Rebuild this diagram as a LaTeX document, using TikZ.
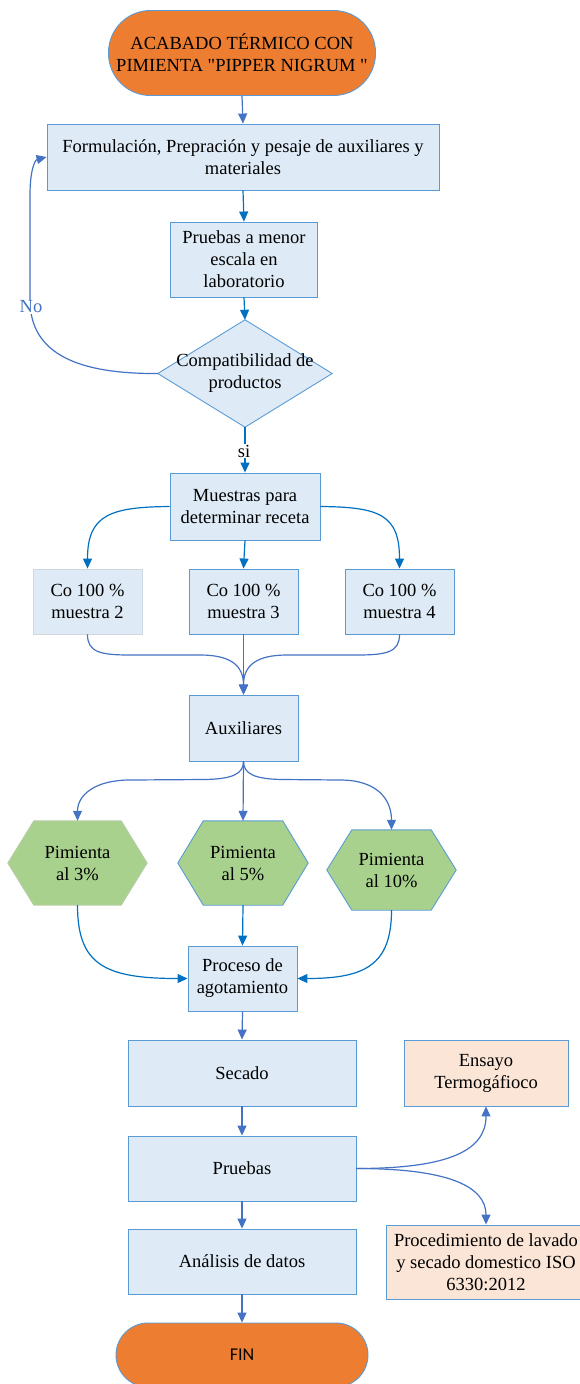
\documentclass[tikz,border=0pt]{standalone}
\usepackage{fontspec}
\setmainfont{Liberation Serif}
\newfontfamily\calibfam{Carlito}
\usetikzlibrary{arrows.meta,backgrounds}
\definecolor{bxfill}{HTML}{DEEBF7}
\definecolor{bxline}{HTML}{5B9BD5}
\definecolor{orng}{HTML}{ED7D31}
\definecolor{grn}{HTML}{A9D18E}
\definecolor{grnline}{HTML}{B9CCAA}
\definecolor{peach}{HTML}{FBE5D6}
\definecolor{arA}{HTML}{0070C0}
\definecolor{arB}{HTML}{4472C4}
\definecolor{gryline}{HTML}{D0D7DE}
\newcommand\bodyfs{\fontsize{18.5}{22}\selectfont}
\newcommand\finfs{\calibfam\fontsize{18}{22}\selectfont}
\begin{document}
\begin{tikzpicture}[x=1pt,y=-1pt,
  every node/.style={inner sep=0pt, align=center, font=\bodyfs},
  box/.style={draw=bxline, fill=bxfill, line width=0.9pt},
  term/.style={draw=bxline, fill=orng, line width=0.9pt},
  shapeA/.style={draw=bxline, fill=bxfill, line width=0.9pt},
  hexg/.style={fill=grn, draw=bxline, line width=0.9pt},
  arA/.style={draw=arA, line width=1.2pt, -{Triangle[length=10pt,width=9pt]}},
  arB/.style={draw=arB, line width=1.2pt, -{Triangle[length=10pt,width=9pt]}},
  lbl/.style={fill=white, inner sep=1pt}
]
\useasboundingbox (0,0) rectangle (579,1384);

% nodes
\node[term, rounded corners=42pt, minimum width=267pt, minimum height=85pt] (start) at (242,53) {ACABADO TÉRMICO CON\\PIMIENTA \textquotedbl PIPPER NIGRUM \textquotedbl};
\node[box, minimum width=392pt, minimum height=66pt] (b1) at (243,157) {Formulación, Prepración y pesaje de auxiliares y\\materiales};
\node[box, minimum width=147pt, minimum height=75pt] (b2) at (244,259.5) {Pruebas a menor\\escala en\\laboratorio};
\node[minimum width=174pt, minimum height=107pt] (dec) at (245,373.5) {Compatibilidad de\\productos};
\node[box, minimum width=150pt, minimum height=67pt] (b3) at (245,506.5) {Muestras para\\determinar receta};
\node[box, draw=gryline, minimum width=109pt, minimum height=65pt] (b4) at (87.5,601.5) {Co 100 \%\\muestra 2};
\node[box, minimum width=109pt, minimum height=65pt] (b5) at (243.5,601.5) {Co 100 \%\\muestra 3};
\node[box, minimum width=109pt, minimum height=65pt] (b6) at (399.5,601.5) {Co 100 \%\\muestra 4};
\node[box, minimum width=109pt, minimum height=66pt] (b7) at (243.5,728) {Auxiliares};
\node[minimum width=139pt, minimum height=84pt] (h1) at (77.5,863) {Pimienta\\al 3\%};
\node[minimum width=130pt, minimum height=84pt] (h2) at (243,863) {Pimienta\\al 5\%};
\node[minimum width=129pt, minimum height=80pt] (h3) at (391.5,870) {Pimienta\\al 10\%};
\node[box, minimum width=109pt, minimum height=65pt] (b8) at (242.5,978.5) {Proceso de\\agotamiento};
\node[box, minimum width=228pt, minimum height=66pt] (sec) at (242,1073) {Secado};
\node[box, minimum width=228pt, minimum height=65pt] (pr) at (242,1168.5) {Pruebas};
\node[box, minimum width=228pt, minimum height=65pt] (an) at (242,1261.5) {Análisis de datos};
\node[term, rounded corners=32pt, minimum width=252pt, minimum height=64pt, font=\finfs] (fin) at (242,1355) {FIN};
\node[box, fill=peach, minimum width=164pt, minimum height=66pt] (en) at (486,1073) {Ensayo\\Termogáfioco};
\node[box, fill=peach, minimum width=200pt, minimum height=74pt] (proc) at (486,1262) {Procedimiento de lavado\\y secado domestico ISO\\6330:2012};

% drawn shapes behind text
\begin{pgfonlayer}{background}
\draw[shapeA] (dec.north) -- (dec.east) -- (dec.south) -- (dec.west) -- cycle;
\draw[hexg, draw=grnline] ([xshift=26pt]h1.north west) -- ([xshift=-26pt]h1.north east) -- (h1.east) -- ([xshift=-26pt]h1.south east) -- ([xshift=26pt]h1.south west) -- (h1.west) -- cycle;
\draw[hexg] ([xshift=25.5pt]h2.north west) -- ([xshift=-25.5pt]h2.north east) -- (h2.east) -- ([xshift=-25.5pt]h2.south east) -- ([xshift=25.5pt]h2.south west) -- (h2.west) -- cycle;
\draw[hexg] ([xshift=25pt]h3.north west) -- ([xshift=-25pt]h3.north east) -- (h3.east) -- ([xshift=-25pt]h3.south east) -- ([xshift=25pt]h3.south west) -- (h3.west) -- cycle;
\end{pgfonlayer}

% connectors
\draw[arB] (start.south) -- (b1.north);
\draw[arA] (b1.south) -- (b2.north);
\draw[arA] (b2.south) -- (dec.north);
\draw[arB] (dec.west) .. controls (80,374) and (30,355) .. (30,300) -- (30,195) .. controls (30,170) and (35,160) .. (b1.west);
\node[lbl, text=arB] (nolab) at (31,307) {No};
\draw[arA] (dec.south) -- (b3.north);
\node[lbl] (silab) at (244,451) {si};

\draw[arA] (b3.west) .. controls (110,507) and (87.5,515) .. (b4.north);
\draw[arA] (b3.south) -- (b5.north);
\draw[arA] (b3.east) .. controls (380,507) and (399.5,515) .. (b6.north);

\draw[arB] (b4.south) .. controls (87.5,652) and (100,655) .. (130,655) -- (200,655) .. controls (230,655) and (243.5,665) .. (b7.north);
\draw[arB] (b5.south) -- (b7.north);
\draw[arB] (b6.south) .. controls (399.5,652) and (387,655) .. (357,655) -- (287,655) .. controls (257,655) and (243.5,665) .. (b7.north);

\draw[arB] (b7.south) .. controls (243.5,774) and (232,779) .. (205,779.5) -- (130,780) .. controls (95,780) and (77.5,795) .. (h1.north);
\draw[arB] (b7.south) -- (h2.north);
\draw[arB] (b7.south) .. controls (243.5,774) and (255,779) .. (282,779.5) -- (340,780) .. controls (378,780) and (391.5,800) .. (h3.north);

\draw[arA] (h1.south) .. controls (77.5,965) and (105,978.5) .. (b8.west);
\draw[arA] (h2.south) -- (b8.north);
\draw[arA] (h3.south) .. controls (391.5,965) and (365,978.5) .. (b8.east);

\draw[arB] (b8.south) -- (sec.north);
\draw[arB] (sec.south) -- (pr.north);
\draw[arB] (pr.south) -- (an.north);
\draw[arB] (an.south) -- (fin.north);
\draw[arB] (pr.east) .. controls (450,1168.5) and (486,1150) .. (en.south);
\draw[arB] (pr.east) .. controls (450,1168.5) and (486,1187) .. (proc.north);
\end{tikzpicture}
\end{document}
